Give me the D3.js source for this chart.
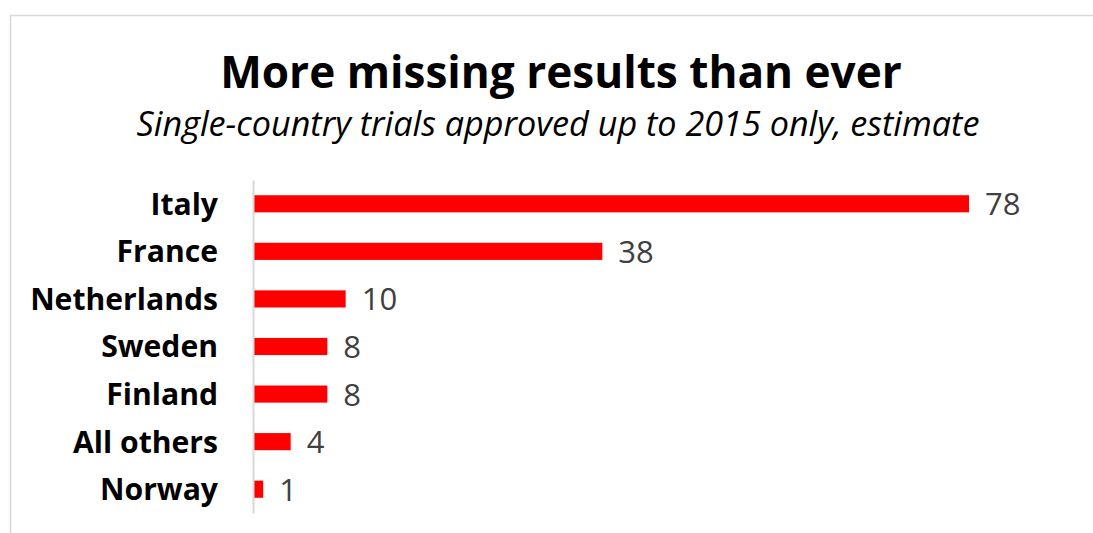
<!DOCTYPE html>
<html>
<head>
<meta charset="utf-8">
<script src="https://cdn.jsdelivr.net/npm/d3@7"></script>
<style>
  body { margin: 0; background: #fff; }
  text { font-family: "Open Sans", Lato, sans-serif; }
</style>
</head>
<body>
<div class="chart"></div>
<script>
// data
var countries = ["Italy", "France", "Netherlands", "Sweden", "Finland", "All others", "Norway"];
var trials = [78, 38, 10, 8, 8, 4, 1];

var svgWidth = 1093;
var svgHeight = 533;

var margin = { top: 180, right: 124, bottom: 20, left: 254 };

var svg = d3.select(".chart")
  .append("svg")
  .attr("width", svgWidth)
  .attr("height", svgHeight);

//scale font size so a text fills a given width
function fitWidth(sel, target) {
  var size = +sel.attr("font-size");
  var w = sel.node().getComputedTextLength();
  sel.attr("font-size", size * target / w);
  return size * target / w;
}

// outer frame, right and bottom edges fall outside the picture
svg.append("rect")
  .attr("x", 10.5)
  .attr("y", 15.5)
  .attr("width", svgWidth + 20)
  .attr("height", svgHeight + 20)
  .attr("fill", "none")
  .attr("stroke", "#d9d9d9")
  .attr("stroke-width", 1.5);

// title and subtitle
var title = svg.append("text")
  .attr("x", 561)
  .attr("y", 88)
  .attr("text-anchor", "middle")
  .attr("font-size", 44)
  .attr("font-weight", "bold")
  .attr("fill", "#000")
  .text("More missing results than ever");
fitWidth(title, 682);

var subtitle = svg.append("text")
  .attr("x", 558)
  .attr("y", 136)
  .attr("text-anchor", "middle")
  .attr("font-size", 26)
  .attr("font-style", "italic")
  .attr("fill", "#000")
  .text("Single-country trials approved up to 2015 only, estimate");
fitWidth(subtitle, 843);

var data = countries.map(function(c, i) { return { country: c, value: trials[i] }; });

// x: 78 reaches ~969px
var xScale = d3.scaleLinear()
  .domain([0, 78])
  .range([margin.left, 969]);

var yScale = d3.scaleBand()
  .domain(countries)
  .range([180, 513])
  .paddingInner(0.64)
  .paddingOuter(0.32);

var chartGroup = svg.append("g");

chartGroup.selectAll("rect.bar")
  .data(data)
  .enter()
  .append("rect")
  .classed("bar", true)
  .attr("x", xScale(0))
  .attr("y", d => yScale(d.country))
  .attr("width", d => xScale(d.value) - xScale(0))
  .attr("height", yScale.bandwidth())
  .attr("fill", "#ff0000");

// left axis line, no ticks
var leftAxis = d3.axisLeft(yScale).tickSize(0).tickPadding(35);
var yAxis = chartGroup.append("g")
  .attr("transform", `translate(${margin.left - 1}, 0)`)
  .call(leftAxis);

yAxis.select(".domain")
  .attr("stroke", "#d9d9d9")
  .attr("stroke-width", 2);

var tickText = yAxis.selectAll(".tick text")
  .attr("font-family", "'Open Sans', sans-serif")
  .attr("font-size", 28)
  .attr("font-weight", "bold")
  .attr("fill", "#000")
  .attr("dy", "0.36em");

// size the category labels off the widest one
var widest = tickText.filter(d => d === "Netherlands");
var labelSize = fitWidth(widest, 188);
tickText.attr("font-size", labelSize);

// value labels
chartGroup.selectAll("text.value")
  .data(data)
  .enter()
  .append("text")
  .classed("value", true)
  .attr("x", d => xScale(d.value) + 16)
  .attr("y", d => yScale(d.country) + yScale.bandwidth() / 2 + 11.5)
  .attr("font-size", 31)
  .attr("fill", "#404040")
  .text(d => d.value);
</script>
</body>
</html>
